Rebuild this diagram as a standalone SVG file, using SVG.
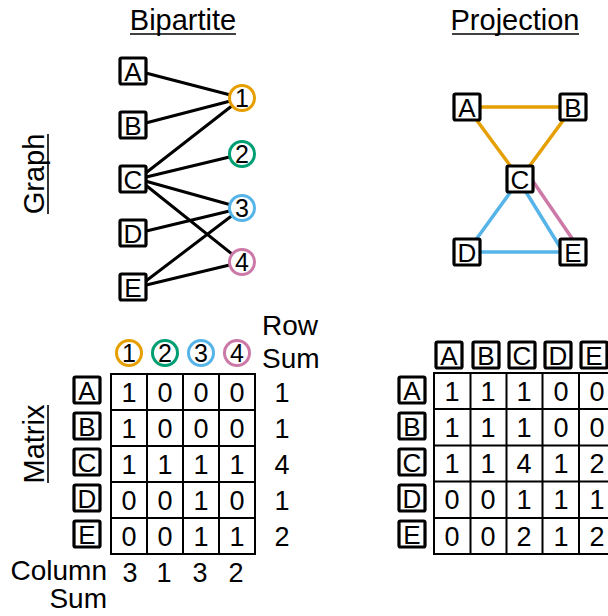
<svg xmlns="http://www.w3.org/2000/svg" width="608" height="616" viewBox="0 0 608 616">
<style>
text{font-family:"Liberation Sans",Arial,sans-serif;fill:#000}
.t{font-size:29px;text-anchor:middle}
.ul{stroke:#000;stroke-width:1.6}
.box{fill:#fff;stroke:#000;stroke-width:3.2}
.bl{font-size:26px;text-anchor:middle}
.cir{fill:#fff;stroke-width:3}
.cl{font-size:25px;text-anchor:middle}
.edge{stroke:#000;stroke-width:3;stroke-linecap:round}
.pe{stroke-width:3.5;stroke-linecap:butt}
.or{stroke:#E69F00}.gr{stroke:#009E73}.bu{stroke:#56B4E9}.pk{stroke:#CC79A7}
.grid{fill:none;stroke:#000;stroke-width:2}
.v{font-size:27px;text-anchor:middle}
.lab{font-size:28px}
</style>

<!-- titles -->
<g id="titles">
<text class="t" x="183" y="30">Bipartite</text>
<line class="ul" x1="130" y1="34" x2="236" y2="34"/>
<text class="t" x="515" y="30">Projection</text>
<line class="ul" x1="452" y1="34" x2="579" y2="34"/>
<text class="t" transform="translate(44,174) rotate(-90)">Graph</text>
<line class="ul" x1="48" y1="134" x2="48" y2="214"/>
<text class="t" transform="translate(44,444) rotate(-90)">Matrix</text>
<line class="ul" x1="48" y1="405" x2="48" y2="483"/>
</g>

<!-- connectors -->
<g id="connectors">
<line class="edge" x1="138" y1="71" x2="242" y2="98"/>
<line class="edge" x1="138" y1="125" x2="242" y2="98"/>
<line class="edge" x1="138" y1="179" x2="242" y2="98"/>
<line class="edge" x1="138" y1="179" x2="242" y2="154"/>
<line class="edge" x1="138" y1="179" x2="242" y2="208"/>
<line class="edge" x1="138" y1="179" x2="242" y2="262"/>
<line class="edge" x1="138" y1="233" x2="242" y2="208"/>
<line class="edge" x1="138" y1="287" x2="242" y2="208"/>
<line class="edge" x1="138" y1="287" x2="242" y2="262"/>

<line class="pe or" x1="467" y1="107" x2="573" y2="107"/>
<line class="pe or" x1="467" y1="107" x2="520" y2="179"/>
<line class="pe or" x1="573" y1="107" x2="520" y2="179"/>
<line class="pe bu" x1="520" y1="179" x2="467" y2="252"/>
<line class="pe bu" x1="518" y1="179" x2="563" y2="252"/>
<line class="pe pk" x1="530" y1="177" x2="578" y2="247"/>
<line class="pe bu" x1="467" y1="252" x2="573" y2="252"/>
</g>

<!-- bipartite nodes -->
<g id="bA"><rect class="box" x="120" y="58" width="26" height="26" rx="1.5"/><text class="bl" x="133" y="80.5">A</text></g>
<g id="bB"><rect class="box" x="120" y="112" width="26" height="26" rx="1.5"/><text class="bl" x="133" y="134.5">B</text></g>
<g id="bC"><rect class="box" x="120" y="166" width="26" height="26" rx="1.5"/><text class="bl" x="133" y="188.5">C</text></g>
<g id="bD"><rect class="box" x="120" y="220" width="26" height="26" rx="1.5"/><text class="bl" x="133" y="242.5">D</text></g>
<g id="bE"><rect class="box" x="120" y="274" width="26" height="26" rx="1.5"/><text class="bl" x="133" y="296.5">E</text></g>
<g id="b1"><circle class="cir or" cx="242" cy="98" r="12.5"/><text class="cl" x="242" y="107">1</text></g>
<g id="b2"><circle class="cir gr" cx="242" cy="154" r="12.5"/><text class="cl" x="242" y="163">2</text></g>
<g id="b3"><circle class="cir bu" cx="242" cy="208" r="12.5"/><text class="cl" x="242" y="217">3</text></g>
<g id="b4"><circle class="cir pk" cx="242" cy="262" r="12.5"/><text class="cl" x="242" y="271">4</text></g>

<!-- projection nodes -->
<g id="pA"><rect class="box" x="454" y="94" width="26" height="26" rx="1.5"/><text class="bl" x="467" y="116.5">A</text></g>
<g id="pB"><rect class="box" x="560" y="94" width="26" height="26" rx="1.5"/><text class="bl" x="573" y="116.5">B</text></g>
<g id="pC"><rect class="box" x="507" y="166" width="26" height="26" rx="1.5"/><text class="bl" x="520" y="188.5">C</text></g>
<g id="pD"><rect class="box" x="454" y="239" width="26" height="26" rx="1.5"/><text class="bl" x="467" y="261.5">D</text></g>
<g id="pE"><rect class="box" x="560" y="239" width="26" height="26" rx="1.5"/><text class="bl" x="573" y="261.5">E</text></g>

<!-- bipartite matrix -->
<g id="matrix-bipartite">
<circle class="cir or" cx="129" cy="353" r="12.5"/><text class="cl" x="129" y="362">1</text>
<circle class="cir gr" cx="165" cy="353" r="12.5"/><text class="cl" x="165" y="362">2</text>
<circle class="cir bu" cx="201" cy="353" r="12.5"/><text class="cl" x="201" y="362">3</text>
<circle class="cir pk" cx="237" cy="353" r="12.5"/><text class="cl" x="237" y="362">4</text>
<text class="lab" x="262" y="335">Row</text>
<text class="lab" x="262" y="368">Sum</text>
<rect class="box" x="74" y="377" width="26" height="26" rx="1.5"/><text class="bl" x="87" y="399.5">A</text>
<rect class="box" x="74" y="413" width="26" height="26" rx="1.5"/><text class="bl" x="87" y="435.5">B</text>
<rect class="box" x="74" y="449" width="26" height="26" rx="1.5"/><text class="bl" x="87" y="471.5">C</text>
<rect class="box" x="74" y="485" width="26" height="26" rx="1.5"/><text class="bl" x="87" y="507.5">D</text>
<rect class="box" x="74" y="521" width="26" height="26" rx="1.5"/><text class="bl" x="87" y="543.5">E</text>
<path class="grid" d="M111 374H255V554H111Z M147 374V554 M183 374V554 M219 374V554 M111 410H255 M111 446H255 M111 482H255 M111 518H255"/>
<g class="v">
<text x="129" y="401.5">1</text><text x="165" y="401.5">0</text><text x="201" y="401.5">0</text><text x="237" y="401.5">0</text><text x="282" y="401.5">1</text>
<text x="129" y="437.5">1</text><text x="165" y="437.5">0</text><text x="201" y="437.5">0</text><text x="237" y="437.5">0</text><text x="282" y="437.5">1</text>
<text x="129" y="473.5">1</text><text x="165" y="473.5">1</text><text x="201" y="473.5">1</text><text x="237" y="473.5">1</text><text x="282" y="473.5">4</text>
<text x="129" y="509.5">0</text><text x="165" y="509.5">0</text><text x="201" y="509.5">1</text><text x="237" y="509.5">0</text><text x="282" y="509.5">1</text>
<text x="129" y="545.5">0</text><text x="165" y="545.5">0</text><text x="201" y="545.5">1</text><text x="237" y="545.5">1</text><text x="282" y="545.5">2</text>
<text x="130" y="582">3</text><text x="164" y="582">1</text><text x="200" y="582">3</text><text x="236" y="582">2</text>
</g>
<text class="lab" x="107" y="580" text-anchor="end">Column</text>
<text class="lab" x="107" y="608" text-anchor="end">Sum</text>
</g>

<!-- projection matrix -->
<g id="matrix-projection">
<rect class="box" x="436" y="342" width="26" height="26" rx="1.5"/><text class="bl" x="449" y="364.5">A</text>
<rect class="box" x="473" y="342" width="26" height="26" rx="1.5"/><text class="bl" x="486" y="364.5">B</text>
<rect class="box" x="509" y="342" width="26" height="26" rx="1.5"/><text class="bl" x="522" y="364.5">C</text>
<rect class="box" x="545" y="342" width="26" height="26" rx="1.5"/><text class="bl" x="558" y="364.5">D</text>
<rect class="box" x="581" y="342" width="26" height="26" rx="1.5"/><text class="bl" x="594" y="364.5">E</text>
<rect class="box" x="399" y="377" width="26" height="26" rx="1.5"/><text class="bl" x="412" y="399.5">A</text>
<rect class="box" x="399" y="413" width="26" height="26" rx="1.5"/><text class="bl" x="412" y="435.5">B</text>
<rect class="box" x="399" y="449" width="26" height="26" rx="1.5"/><text class="bl" x="412" y="471.5">C</text>
<rect class="box" x="399" y="485" width="26" height="26" rx="1.5"/><text class="bl" x="412" y="507.5">D</text>
<rect class="box" x="399" y="521" width="26" height="26" rx="1.5"/><text class="bl" x="412" y="543.5">E</text>
<path class="grid" d="M434 373H615V554H434Z M470.5 373V554 M506.5 373V554 M542.5 373V554 M579 373V554 M434 409H615 M434 445.5H615 M434 481.5H615 M434 518H615"/>
<g class="v">
<text x="452" y="400.5">1</text><text x="488" y="400.5">1</text><text x="524" y="400.5">1</text><text x="561" y="400.5">0</text><text x="597" y="400.5">0</text>
<text x="452" y="436.5">1</text><text x="488" y="436.5">1</text><text x="524" y="436.5">1</text><text x="561" y="436.5">0</text><text x="597" y="436.5">0</text>
<text x="452" y="473">1</text><text x="488" y="473">1</text><text x="524" y="473">4</text><text x="561" y="473">1</text><text x="597" y="473">2</text>
<text x="452" y="509">0</text><text x="488" y="509">0</text><text x="524" y="509">1</text><text x="561" y="509">1</text><text x="597" y="509">1</text>
<text x="452" y="545.5">0</text><text x="488" y="545.5">0</text><text x="524" y="545.5">2</text><text x="561" y="545.5">1</text><text x="597" y="545.5">2</text>
</g>
</g>
</svg>
